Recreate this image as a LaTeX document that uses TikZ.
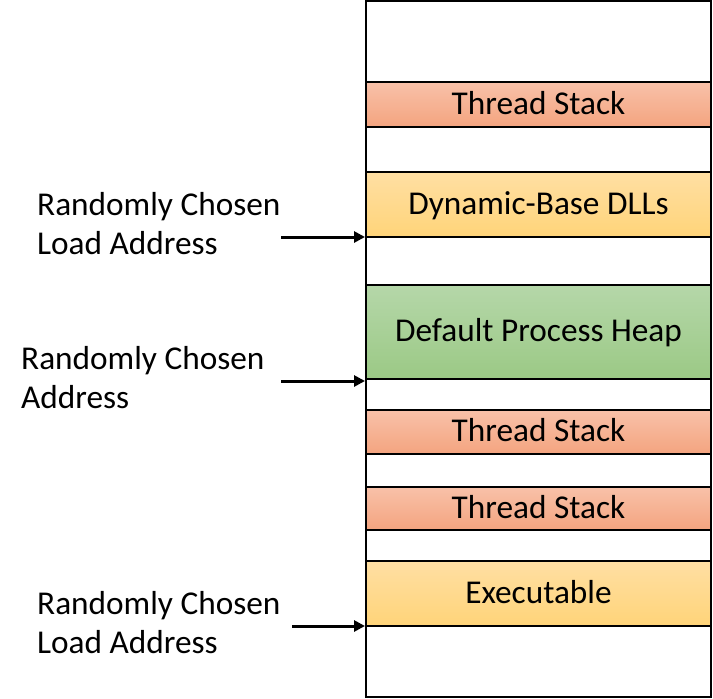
\documentclass[tikz,border=0pt]{standalone}
\usepackage{fontspec}
\setmainfont{Carlito}
\usetikzlibrary{arrows.meta}
\definecolor{tsTop}{HTML}{F8C1A9}
\definecolor{tsBot}{HTML}{F4A47F}
\definecolor{ylTop}{HTML}{FFDFA3}
\definecolor{ylBot}{HTML}{FFD479}
\definecolor{grTop}{HTML}{B5D7A9}
\definecolor{grBot}{HTML}{9BC985}
\tikzset{
  band/.style={draw=black, line width=2pt, minimum width=345pt, inner sep=0pt,
    text height=25pt, text depth=6pt,
    font=\fontsize{33.3}{39}\selectfont},
  redband/.style={band, top color=tsTop, bottom color=tsBot},
  yelband/.style={band, top color=ylTop, bottom color=ylBot},
  grnband/.style={band, top color=grTop, bottom color=grBot},
  lbl/.style={align=left, inner sep=0pt, anchor=base west,
    font=\fontsize{33.3}{39}\selectfont},
  arr/.style={line width=3pt, -{Triangle[length=11pt,width=11pt]}}
}
\begin{document}
\begin{tikzpicture}[x=1pt,y=-1pt]
\useasboundingbox (0,0) rectangle (713,699);
\node[draw=black, line width=2pt, minimum width=345pt, minimum height=696pt, inner sep=0pt] (col) at (538.5,349) {};
\node[redband, minimum height=45pt] (ts1) at (538.5,104.5) {Thread Stack};
\node[yelband, minimum height=65pt] (dll) at (538.5,204.5) {Dynamic-Base DLLs};
\node[grnband, minimum height=94pt] (heap) at (538.5,332) {Default Process Heap};
\node[redband, minimum height=44pt] (ts2) at (538.5,432) {Thread Stack};
\node[redband, minimum height=43pt] (ts3) at (538.5,508.5) {Thread Stack};
\node[yelband, minimum height=65pt] (exe) at (538.5,593.5) {Executable};
\node[lbl] (l1) at (37,254) {Randomly Chosen\\Load Address};
\node[lbl] (l2) at (21,408) {Randomly Chosen\\Address};
\node[lbl] (l3) at (37,653) {Randomly Chosen\\Load Address};
\coordinate (a1) at (281,237);
\coordinate (a2) at (281,381);
\coordinate (a3) at (292,626);
\draw[arr] (a1) -- (a1 -| dll.west);
\draw[arr] (a2) -- (a2 -| heap.west);
\draw[arr] (a3) -- (a3 -| exe.west);
\end{tikzpicture}
\end{document}
